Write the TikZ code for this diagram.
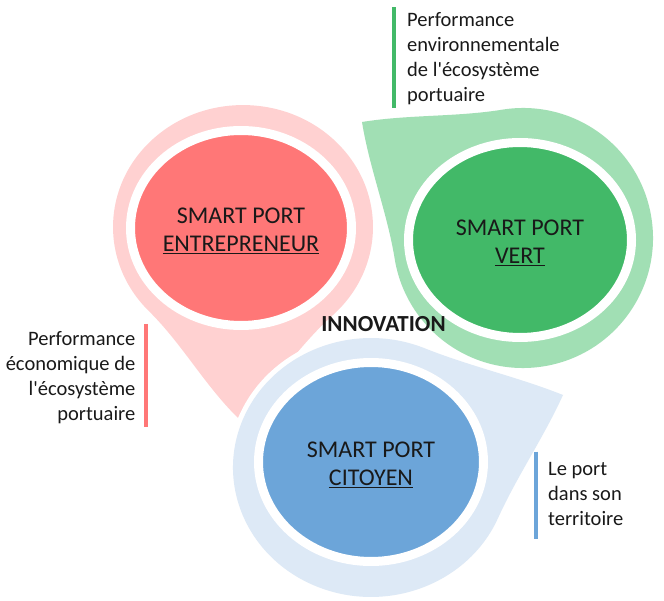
\documentclass[tikz,border=0pt]{standalone}
\usepackage{fontspec}
\setmainfont{Carlito}[Ligatures=TeXOff]
\usepackage{tikz}
\usetikzlibrary{shapes.geometric, positioning, calc}
\definecolor{entrelight}{HTML}{FFD1D1}
\definecolor{entrecore}{HTML}{FF7777}
\definecolor{vertlight}{HTML}{A1DFB4}
\definecolor{vertcore}{HTML}{42B968}
\definecolor{citolight}{HTML}{DDE9F6}
\definecolor{citocore}{HTML}{6CA5D9}
\tikzstyle{drop} = [preaction={draw=white, line width=10pt, line join=round}]
\tikzstyle{core} = [ellipse, draw=white, line width=9pt, inner sep=0pt, outer sep=0pt]
\tikzstyle{coretext} = [align=center, inner sep=0pt, text=black!90, font=\fontsize{24}{28.3}\selectfont]
\tikzstyle{labeltext} = [inner sep=0pt, text=black!90, font=\fontsize{20.5}{25}\selectfont]
\tikzstyle{bar} = [line width=3.5pt]

\begin{document}
\begin{tikzpicture}[x=1pt, y=-1pt]
    \useasboundingbox (0,0) rectangle (664,601);

    % Drops
    \begin{scope}[shift={(243,227)}, yscale=0.938]
        \fill[entrelight, drop] (136.4:130) arc[start angle=136.4, end angle=406.4, radius=130]
            .. controls +(136.4:48) and +(-43.6:48.9) .. (-5,203.6)
            .. controls +(226.4:48.9) and +(46.4:48) .. (136.4:130) -- cycle;
    \end{scope}
    \begin{scope}[shift={(523,238)}]
        \fill[vertlight, drop] (260.8:130) arc[start angle=260.8, end angle=530.8, radius=130]
            .. controls +(260.8:46.8) and +(80.8:47.3) .. (-161,-116)
            .. controls +(350.8:47.3) and +(170.8:46.8) .. (260.8:130) -- cycle;
    \end{scope}
    \begin{scope}[shift={(371,467.5)}, yscale=0.938]
        \fill[citolight, drop] (23.07:138) arc[start angle=23.07, end angle=293.07, radius=138]
            .. controls +(23.07:48.8) and +(203.07:49.1) .. (192,-77.3)
            .. controls +(113.07:49.1) and +(293.07:48.8) .. (23.07:138) -- cycle;
    \end{scope}

    % Cores
    \node[core, fill=entrecore, minimum width=221pt, minimum height=195pt] (entre) at (241,228) {};
    \node[core, fill=vertcore, minimum width=223pt, minimum height=195pt] (vert) at (520,240) {};
    \node[core, fill=citocore, minimum width=225pt, minimum height=199pt] (cito) at (371,462) {};
    \node[coretext] (entretxt) at ([yshift=-3pt]entre.center) {SMART PORT\\\underline{ENTREPRENEUR}};
    \node[coretext] (verttxt) at ([yshift=-3pt]vert.center) {SMART PORT\\\underline{VERT}};
    \node[coretext] (citotxt) at ([yshift=-3pt]cito.center) {SMART PORT\\\underline{CITOYEN}};

    \node[font=\fontsize{23}{27}\selectfont\bfseries, inner sep=0pt, text=black!90] (innov) at (383.5,323.7) {INNOVATION};

    % Labels
    \node[labeltext, anchor=north west, align=left] (lblvert) at (407,12.7) {Performance\\environnementale\\de l'écosystème\\portuaire};
    \node[labeltext, anchor=north east, align=right] (lblentre) at (135.5,331) {Performance\\économique de\\l'écosystème\\portuaire};
    \node[labeltext, anchor=north west, align=left] (lblcito) at (548,462.4) {Le port\\dans son\\territoire};
    \draw[bar, draw=vertcore] ([xshift=-13pt, yshift=5.5pt]lblvert.north west) -- ([xshift=-13pt, yshift=-2.3pt]lblvert.south west);
    \draw[bar, draw=entrecore] ([xshift=10.5pt, yshift=7pt]lblentre.north east) -- ([xshift=10.5pt, yshift=-3pt]lblentre.south east);
    \draw[bar, draw=citocore] ([xshift=-12pt, yshift=10.7pt]lblcito.north west) -- ([xshift=-12pt, yshift=-12.4pt]lblcito.south west);
\end{tikzpicture}
\end{document}
